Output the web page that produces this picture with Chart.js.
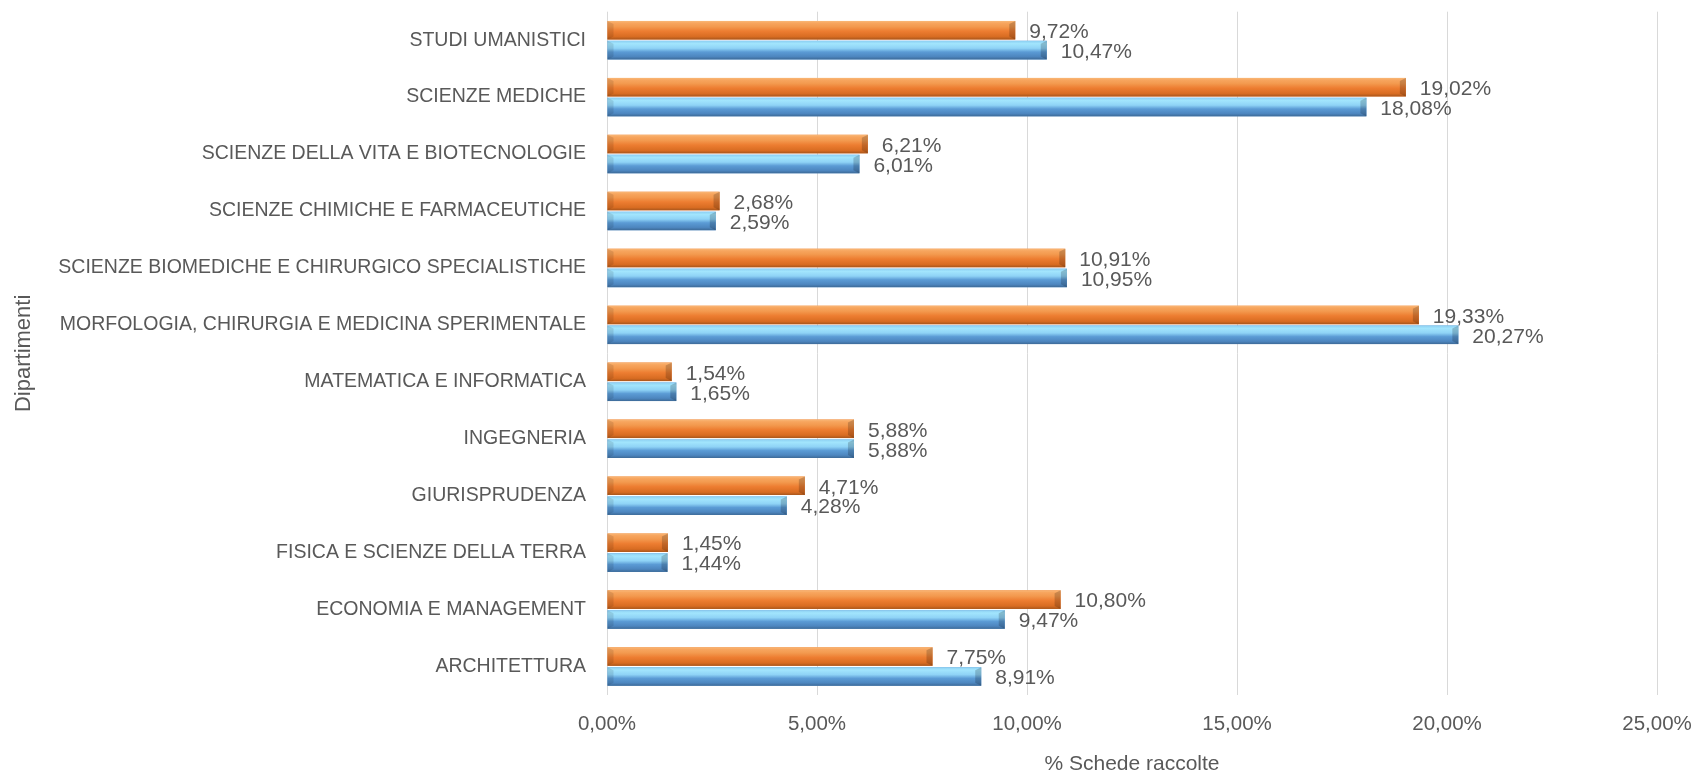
<!DOCTYPE html>
<html>
<head>
<meta charset="utf-8">
<script src="https://cdn.jsdelivr.net/npm/chart.js@4"></script>
<style>
    html, body { margin: 0; padding: 0; background: #fff; }
    #wrap { width: 1698px; height: 775px; position: relative; }
</style>
</head>
<body>
<div id="wrap"><canvas id="chart"></canvas></div>
<script>
// Departments, top to bottom as in the picture
const categories = [
    'STUDI UMANISTICI',
    'SCIENZE MEDICHE',
    'SCIENZE DELLA VITA E BIOTECNOLOGIE',
    'SCIENZE CHIMICHE E FARMACEUTICHE',
    'SCIENZE BIOMEDICHE E CHIRURGICO SPECIALISTICHE',
    'MORFOLOGIA, CHIRURGIA E MEDICINA SPERIMENTALE',
    'MATEMATICA E INFORMATICA',
    'INGEGNERIA',
    'GIURISPRUDENZA',
    'FISICA E SCIENZE DELLA TERRA',
    'ECONOMIA E MANAGEMENT',
    'ARCHITETTURA',
];

// orange bars (upper bar of each pair)
const serieArancio = [9.72, 19.02, 6.21, 2.68, 10.91, 19.33, 1.54, 5.88, 4.71, 1.45, 10.80, 7.75];
// blue bars (lower bar of each pair)
const serieBlu = [10.47, 18.08, 6.01, 2.59, 10.95, 20.27, 1.65, 5.88, 4.28, 1.44, 9.47, 8.91];

const xTicks = [0, 5, 10, 15, 20, 25];

const FONT = "'Liberation Sans', Arial, sans-serif";
const TEXT_COLOR = '#595959';

const formatPct = (v) => v.toFixed(2).replace('.', ',') + '%';

const bevelStops = {
    orange: [[0, '#f9b877'], [0.12, '#f7a55e'], [0.3, '#f39a4f'], [0.55, '#ed7d31'], [0.85, '#d86c22'], [1, '#a8561c']],
    blue: [[0, '#8ccff2'], [0.15, '#a2e5fd'], [0.4, '#8fd3f6'], [0.6, '#5b9bd5'], [0.85, '#4d86bf'], [1, '#3d6a97']],
};

// Excel-like bevel look painted over each bar, using the bar element positions
const bevelPlugin = {
    id: 'bevel',
    afterDatasetsDraw(chart) {
        const ctx = chart.ctx;
        chart.data.datasets.forEach((ds, i) => {
            const meta = chart.getDatasetMeta(i);
            const stops = bevelStops[ds.bevel];
            meta.data.forEach(bar => {
                const { x, y, base, height } = bar.getProps(['x', 'y', 'base', 'height'], true);
                const top = y - height / 2;
                const bottom = y + height / 2;
                const grad = ctx.createLinearGradient(0, top, 0, bottom);
                stops.forEach(([o, c]) => grad.addColorStop(o, c));
                ctx.save();
                ctx.fillStyle = grad;
                ctx.fillRect(base, top, x - base, height);
                const b = Math.min(6, (x - base) / 3);
                // right end facet
                ctx.fillStyle = 'rgba(0,0,0,0.18)';
                ctx.beginPath();
                ctx.moveTo(x - b, top + 3);
                ctx.lineTo(x, top);
                ctx.lineTo(x, bottom);
                ctx.lineTo(x - b, bottom - 3);
                ctx.closePath();
                ctx.fill();
                // left end facet
                ctx.fillStyle = 'rgba(0,0,0,0.10)';
                ctx.beginPath();
                ctx.moveTo(base, top);
                ctx.lineTo(base + b, top + 3);
                ctx.lineTo(base + b, bottom - 3);
                ctx.lineTo(base, bottom);
                ctx.closePath();
                ctx.fill();
                ctx.restore();
            });
        });
    },
};

// value labels right of each bar
const valueLabels = {
    id: 'valueLabels',
    afterDatasetsDraw(chart) {
        const ctx = chart.ctx;
        ctx.save();
        ctx.font = '21px ' + FONT;
        ctx.fillStyle = TEXT_COLOR;
        ctx.textAlign = 'left';
        ctx.textBaseline = 'middle';
        chart.data.datasets.forEach((ds, i) => {
            chart.getDatasetMeta(i).data.forEach((bar, j) => {
                ctx.fillText(formatPct(ds.data[j]), bar.x + 14, bar.y + 2);
            });
        });
        ctx.restore();
    },
};

new Chart(document.getElementById('chart'), {
    type: 'bar',
    data: {
        labels: categories,
        datasets: [
            {
                label: 'Serie 1',
                data: serieArancio,
                backgroundColor: '#ed7d31',
                bevel: 'orange',
                categoryPercentage: 0.7,
                barPercentage: 0.93,
            },
            {
                label: 'Serie 2',
                data: serieBlu,
                backgroundColor: '#5b9bd5',
                bevel: 'blue',
                categoryPercentage: 0.7,
                barPercentage: 0.93,
            },
        ],
    },
    options: {
        indexAxis: 'y',
        responsive: true,
        maintainAspectRatio: false,
        animation: false,
        layout: { padding: { top: 10, right: 41, bottom: 0, left: 0 } },
        plugins: {
            legend: { display: false },
            tooltip: { enabled: false },
        },
        scales: {
            x: {
                min: 0,
                max: 25,
                afterBuildTicks: (scale) => { scale.ticks = xTicks.map(v => ({ value: v })); },
                afterFit: (scale) => { scale.height = 80; },
                grid: { color: '#d9d9d9', lineWidth: 1, drawTicks: true, tickLength: 17, tickColor: 'transparent' },
                border: { display: false },
                ticks: {
                    padding: 0,
                    color: TEXT_COLOR,
                    font: { family: FONT, size: 20.5 },
                    maxRotation: 0,
                    callback: (v) => formatPct(v),
                },
                title: {
                    display: true,
                    text: '% Schede raccolte',
                    color: TEXT_COLOR,
                    font: { family: FONT, size: 21, lineHeight: 1 },
                    padding: { top: 0, bottom: 0 },
                },
            },
            y: {
                afterFit: (scale) => { scale.width = 607; },
                grid: { display: true, drawOnChartArea: false, drawTicks: true, tickLength: 21, tickColor: 'transparent' },
                border: { display: false },
                ticks: {
                    padding: 0,
                    color: TEXT_COLOR,
                    font: { family: FONT, size: 19.5 },
                    autoSkip: false,
                },
                title: {
                    display: true,
                    text: 'Dipartimenti',
                    color: TEXT_COLOR,
                    font: { family: FONT, size: 22 },
                    padding: { top: 11, bottom: 0 },
                },
            },
        },
    },
    plugins: [bevelPlugin, valueLabels],
});
</script>
</body>
</html>
